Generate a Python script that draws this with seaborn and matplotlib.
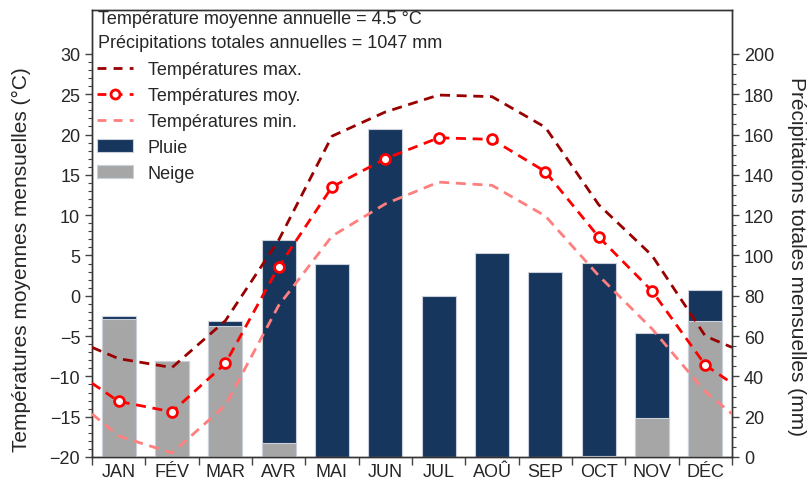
import numpy as np
import pandas as pd
import matplotlib
matplotlib.use("Agg")
import matplotlib.pyplot as plt
import seaborn as sns
from matplotlib.lines import Line2D
from matplotlib.patches import Patch
from matplotlib.ticker import FixedLocator, NullFormatter, FixedFormatter

# ---------------- data ----------------
months = ["JAN", "FÉV", "MAR", "AVR", "MAI", "JUN", "JUL", "AOÛ", "SEP", "OCT", "NOV", "DÉC"]
t_max = [-7.8, -8.9, -3.1, 6.9, 19.8, 22.8, 24.9, 24.7, 20.9, 11.3, 5.0, -5.0]
t_moy = [-13.1, -14.4, -8.4, 3.6, 13.5, 17.0, 19.6, 19.4, 15.4, 7.3, 0.6, -8.6]
t_min = [-17.4, -19.5, -13.6, -1.2, 7.4, 11.4, 14.1, 13.7, 9.9, 2.5, -4.1, -11.9]
rain = [1.5, 0.0, 2.4, 100.7, 96.0, 163.0, 80.0, 101.0, 91.7, 96.0, 42.0, 15.5]
snow = [68.5, 47.8, 64.9, 7.0, 0.0, 0.0, 0.0, 0.0, 0.0, 0.4, 19.5, 67.5]
annual_mean_temp = 4.5
annual_total_precip = 1047

# ---------------- style ----------------
sns.set_style("ticks")
plt.rcParams["font.family"] = ["Liberation Sans", "DejaVu Sans"]

C_RAIN = "#17365D"
C_SNOW = "#A6A6A6"
C_EDGE = "#C9D0D9"
C_MAX = "#990000"
C_MOY = "#FF0000"
C_MIN = "#FF7F7F"
C_TICK = "#444444"
FS = 13

W, H = 812, 485
fig = plt.figure(figsize=(W / 100, H / 100), dpi=100)
ax = fig.add_axes([92 / W, (H - 458) / H, (732 - 92) / W, (458 - 11) / H])

df = pd.DataFrame({"mois": months, "pluie": rain, "neige": snow})
df["total"] = df["pluie"] + df["neige"]

# bars (precipitation scale, right side)
sns.barplot(data=df, x="mois", y="total", order=months, color=C_RAIN, width=0.64,
            edgecolor=C_EDGE, linewidth=0.8, saturation=1, ax=ax, zorder=2)
sns.barplot(data=df, x="mois", y="neige", order=months, color=C_SNOW, width=0.64,
            edgecolor=C_EDGE, linewidth=0.8, saturation=1, ax=ax, zorder=3)

tmin_lim, tmax_lim = -20, 35.45
ax.set_xlim(-0.5, 11.5)
ax.set_ylim((tmin_lim + 20) * 4, (tmax_lim + 20) * 4)
ax.set_xlabel("")

# temperature axis (drawn on top of the bars)
axt = ax.twinx()

# precipitation ticks on the right
ax.yaxis.tick_right()
ax.yaxis.set_label_position("right")
ax.yaxis.set_major_locator(FixedLocator(np.arange(0, 201, 20)))
ax.yaxis.set_minor_locator(FixedLocator(np.arange(0, 201, 5)))
ax.set_ylabel("Précipitations totales mensuelles (mm)", fontsize=15, rotation=270,
              va="center", ha="center")
ax.yaxis.set_label_coords((797 - 92) / 640, (458 - 257) / 447)

# x-axis: ticks on boundaries, labels at centres
ax.xaxis.set_major_locator(FixedLocator(np.arange(-0.5, 12, 1)))
ax.xaxis.set_major_formatter(NullFormatter())
ax.xaxis.set_minor_locator(FixedLocator(np.arange(0, 12)))
ax.xaxis.set_minor_formatter(FixedFormatter(months))
ax.tick_params(axis="x", which="major", direction="out", length=6, width=1, color=C_TICK)
ax.tick_params(axis="x", which="minor", length=0, labelsize=FS, pad=4)
ax.tick_params(axis="y", which="major", direction="out", length=5, width=1, labelsize=FS,
               color=C_TICK, left=False, labelleft=False, right=True, labelright=True)
ax.tick_params(axis="y", which="minor", direction="out", length=3, width=0.8, color=C_TICK,
               left=False, right=True)

# temperature ticks on the left
axt.set_ylim(tmin_lim, tmax_lim)
axt.yaxis.tick_left()
axt.yaxis.set_label_position("left")
axt.yaxis.set_major_locator(FixedLocator(np.arange(-20, 31, 5)))
axt.yaxis.set_minor_locator(FixedLocator(np.arange(-20, 31, 1)))
axt.tick_params(axis="y", which="major", direction="out", length=5, width=1, labelsize=FS,
                color=C_TICK, right=False, labelright=False, left=True, labelleft=True)
axt.tick_params(axis="y", which="minor", direction="out", length=3, width=0.8, color=C_TICK,
                right=False, left=True)

xpos = np.concatenate([[-0.5], np.arange(12), [11.5]])


def wrap(vals):
    vals = np.asarray(vals, dtype=float)
    edge = (vals[0] + vals[-1]) / 2.0
    return np.concatenate([[edge], vals, [edge]])


dash = (3.6, 2.4)
for vals, col, z in ((t_max, C_MAX, 4), (t_min, C_MIN, 4), (t_moy, C_MOY, 5)):
    sns.lineplot(x=xpos, y=wrap(vals), color=col, lw=2.0, ax=axt, sort=False, zorder=z)
    axt.lines[-1].set_dashes(dash)
sns.scatterplot(x=np.arange(12), y=t_moy, marker="o", s=50, facecolor="white",
                edgecolor=C_MOY, linewidth=2.0, ax=axt, zorder=6)
axt.set_xlim(-0.5, 11.5)
axt.set_ylabel("Températures moyennes mensuelles (°C)", fontsize=15, va="center",
               ha="center")
axt.yaxis.set_label_coords((21 - 92) / 640, (458 - 260) / 447)
axt.set_xlabel("")

for a in (ax, axt):
    for s in a.spines.values():
        s.set_color("#333333")
        s.set_linewidth(1.0)

# header text
fig.text(98 / W, 1 - 20 / H, f"Température moyenne annuelle = {annual_mean_temp} °C",
         fontsize=FS, va="center", ha="left")
fig.text(98 / W, 1 - 43 / H, f"Précipitations totales annuelles = {annual_total_precip} mm",
         fontsize=FS, va="center", ha="left")

handles = [
    Line2D([], [], color=C_MAX, lw=2.0, dashes=(3.2, 2.6)),
    Line2D([], [], color=C_MOY, lw=2.0, dashes=(3.2, 2.6), marker="o", markersize=6.5,
           markerfacecolor="white", markeredgecolor=C_MOY, markeredgewidth=2.0),
    Line2D([], [], color=C_MIN, lw=2.0, dashes=(3.2, 2.6)),
    Patch(facecolor=C_RAIN, edgecolor=C_EDGE, linewidth=0.8),
    Patch(facecolor=C_SNOW, edgecolor=C_EDGE, linewidth=0.8),
]
labels = ["Températures max.", "Températures moy.", "Températures min.", "Pluie", "Neige"]
leg = axt.legend(handles, labels, loc="upper left", bbox_to_anchor=(97 / W, 1 - 62 / H),
                 bbox_transform=fig.transFigure, frameon=False, fontsize=FS,
                 borderpad=0, borderaxespad=0, labelspacing=0.5, handlelength=2.0,
                 handleheight=0.75, handletextpad=0.8)
leg.set_zorder(10)

fig.savefig("out.png", dpi=100)
